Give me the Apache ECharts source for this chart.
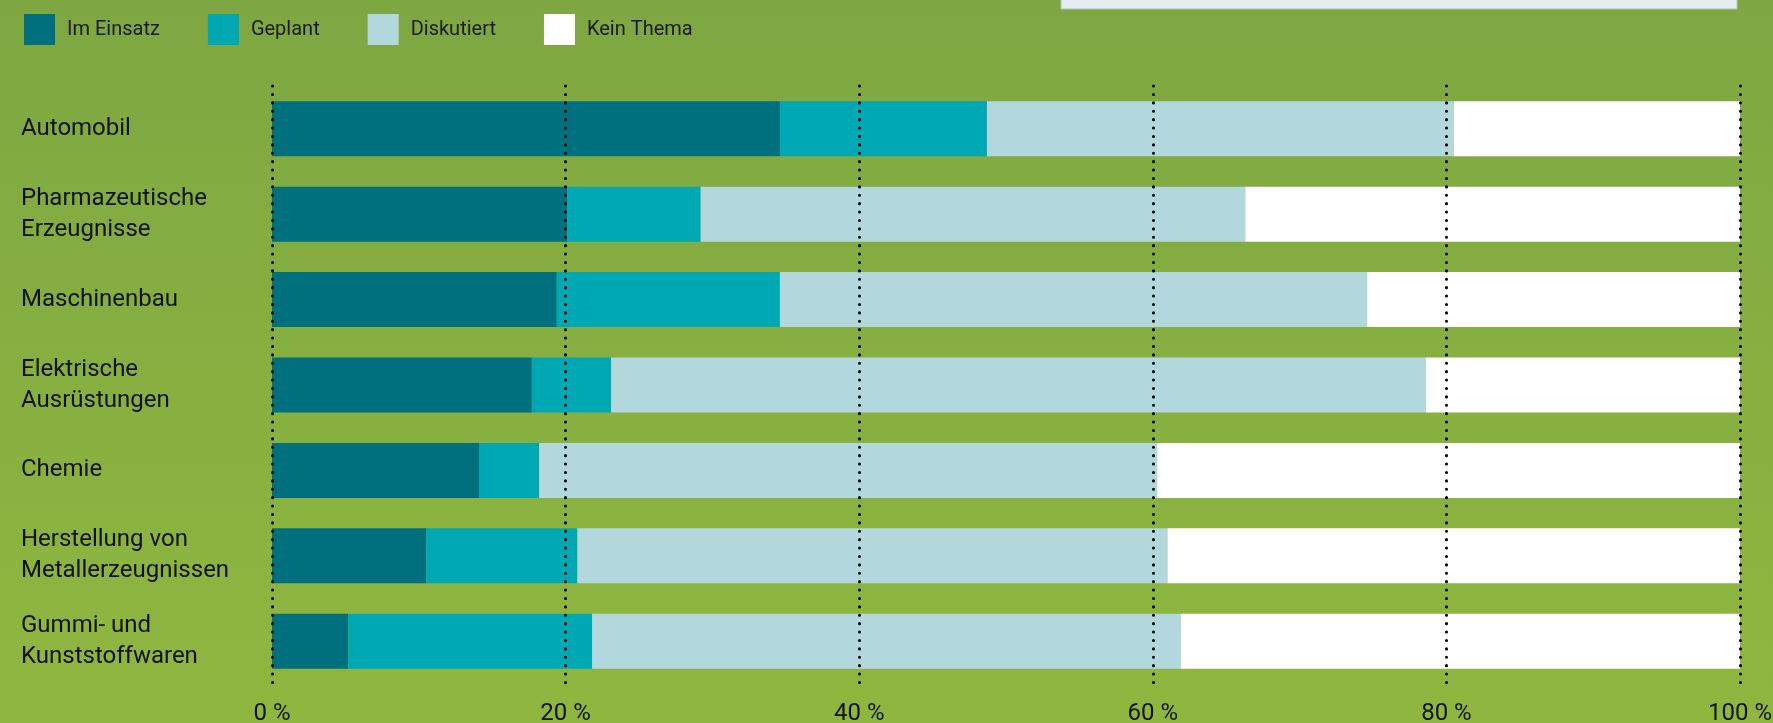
<!DOCTYPE html>
<html>
<head>
<meta charset="utf-8">
<script src="https://cdn.jsdelivr.net/npm/echarts@6/dist/echarts.min.js"></script>
<style>
  html, body { margin: 0; padding: 0; }
  #chart { width: 1773px; height: 723px; }
</style>
</head>
<body>
<div id="chart"></div>
<script>
// Branchen (von oben nach unten)
const categories = [
  'Automobil',
  'Pharmazeutische\nErzeugnisse',
  'Maschinenbau',
  'Elektrische\nAusrüstungen',
  'Chemie',
  'Herstellung von\nMetallerzeugnissen',
  'Gummi- und\nKunststoffwaren'
]
// Anteile in %
const imEinsatz = [34.6, 20.1, 19.4, 17.7, 14.1, 10.5, 5.2]
const geplant = [14.1, 9.1, 15.2, 5.4, 4.1, 10.3, 16.6]
const diskutiert = [31.8, 37.1, 40.0, 55.5, 42.1, 40.2, 40.1]
const keinThema = [19.5, 33.7, 25.4, 21.4, 39.7, 39.0, 38.1]
const tickLabels = ['0 %', '20 %', '40 %', '60 %', '80 %', '100 %']

const font = 'Roboto'
const chart = echarts.init(document.getElementById('chart'))

function bar(name, data, color) {
  return {
    name: name,
    type: 'bar',
    stack: 'total',
    barWidth: 55,
    itemStyle: { color: color },
    data: data,
    animation: false
  }
}

chart.setOption({
  backgroundColor: {
    type: 'linear', x: 0, y: 0, x2: 0, y2: 1,
    colorStops: [
      { offset: 0, color: '#7ea742' },
      { offset: 1, color: '#8fb73f' }
    ]
  },
  graphic: [{
    type: 'rect',
    shape: { x: 1061, y: -2, width: 676, height: 11 },
    style: { fill: '#e4eef1', stroke: '#b3c2c5', lineWidth: 1 }
  }],
  legend: {
    left: 24,
    top: 14,
    padding: 0,
    itemWidth: 31,
    itemHeight: 31,
    itemGap: 48,
    icon: 'rect',
    textStyle: {
      fontFamily: font,
      fontSize: 20,
      color: '#1a1a1a',
      padding: [0, 0, 0, 7]
    },
    data: ['Im Einsatz', 'Geplant', 'Diskutiert', 'Kein Thema']
  },
  grid: {
    left: 272,
    right: 33,
    top: 86,
    bottom: 39,
    outerBoundsMode: 'none'
  },
  xAxis: {
    type: 'value',
    min: 0,
    max: 100,
    interval: 20,
    z: 10,
    axisLine: { show: false },
    axisTick: { show: false },
    axisLabel: {
      margin: 18,
      verticalAlign: 'top',
      fontFamily: font,
      fontSize: 24,
      color: '#111',
      formatter: function(v) { return tickLabels[v / 20] }
    },
    splitLine: {
      show: true,
      lineStyle: {
        color: '#000',
        width: 3,
        type: [0.1, 8.3],
        cap: 'round'
      }
    }
  },
  yAxis: {
    type: 'category',
    inverse: true,
    data: categories,
    axisLine: { show: false },
    axisTick: { show: false },
    axisLabel: {
      align: 'left',
      margin: 251,
      fontFamily: font,
      fontSize: 24,
      lineHeight: 31,
      color: '#111'
    }
  },
  series: [
    bar('Im Einsatz', imEinsatz, '#00707e'),
    bar('Geplant', geplant, '#00a8b3'),
    bar('Diskutiert', diskutiert, '#b2d7dd'),
    bar('Kein Thema', keinThema, '#ffffff')
  ]
})
</script>
</body>
</html>
